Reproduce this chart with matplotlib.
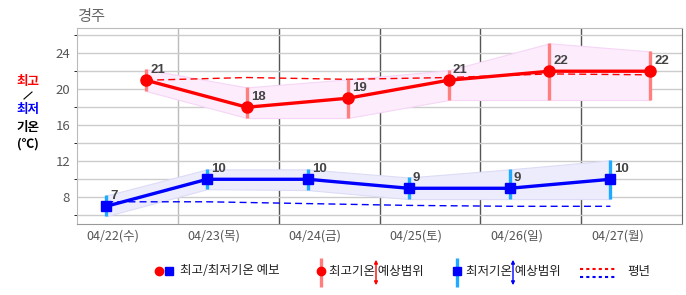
import numpy as np
import matplotlib
matplotlib.use("Agg")
import matplotlib.pyplot as plt

plt.rcParams['font.family'] = ['Noto Sans CJK KR', 'DejaVu Sans']

# 데이터
days = ['04/22(수)', '04/23(목)', '04/24(금)', '04/25(토)', '04/26(일)', '04/27(월)']
tmax = [21, 18, 19, 21, 22, 22]
tmax_lo = [19.8, 16.8, 16.8, 18.8, 18.8, 18.8]
tmax_hi = [22.2, 20.2, 21.1, 22.1, 25.1, 24.2]
tmin = [7, 10, 10, 9, 9, 10]
tmin_lo = [5.9, 8.9, 8.8, 7.8, 7.8, 7.8]
tmin_hi = [8.2, 11.1, 11.1, 10.2, 11.1, 12.1]
normal_max = [21.0, 21.3, 21.1, 21.3, 21.7, 21.6]
normal_min = [7.5, 7.5, 7.3, 7.1, 7.0, 7.0]
yticks = [8, 12, 16, 20, 24]

W, H = 686, 295
fig = plt.figure(figsize=(W / 100, H / 100), dpi=100)
ax = fig.add_axes([77 / W, 1 - 224.3 / H, 605 / W, 196.3 / H])

# 최저는 새벽, 최고는 오후 시각에 찍힘
xd = np.arange(len(days))
xmin = xd + 0.29
xmax = xd + 0.685

# 예상범위 음영
ax.fill_between(xmax, tmax_lo, tmax_hi, color='#fcecfc', edgecolor='#f6d6f6', lw=0.8, zorder=1)
ax.fill_between(xmin, tmin_lo, tmin_hi, color='#ececfc', edgecolor='#dcdcf6', lw=0.8, zorder=1)

# 평년
ax.plot(xmax, normal_max, color='#ff0000', lw=1, ls=(0, (5, 3)), zorder=2)
ax.plot(xmin, normal_min, color='#0000ff', lw=1, ls=(0, (5, 3)), zorder=2)

# 예상범위 막대
ax.vlines(xmax, tmax_lo, tmax_hi, color='#ff7f7f', lw=2.4, zorder=3)
ax.vlines(xmin, tmin_lo, tmin_hi, color='#1eaaff', lw=2.4, zorder=3)

# 예보
ax.plot(xmax, tmax, color='#ff0000', lw=2.4, marker='o', ms=8, zorder=4)
ax.plot(xmin, tmin, color='#0000ff', lw=2.4, marker='s', ms=7.5, zorder=4)

for xs, vals in [(xmax, tmax), (xmin, tmin)]:
    for xi, v in zip(xs, vals):
        ax.annotate(str(v), (xi, v), xytext=(3, 3), textcoords='offset points',
                    ha='left', va='bottom', fontsize=9.5, fontweight='bold', color='#444444',
                    family='Liberation Sans', zorder=5)

ax.set_xlim(0, 6)
ax.set_ylim(5, 26.8)
ax.set_yticks(yticks)
ax.set_yticks(np.arange(6, 27, 2), minor=True)
ax.yaxis.grid(True, which='both', color='#cccccc', lw=1)
ax.set_xticks(xd + 0.36)
ax.set_xticklabels(days)
ax.tick_params(length=0, labelsize=9, colors='#555555')
ax.tick_params(axis='y', pad=5, labelsize=9.5)
ax.tick_params(axis='x', pad=4)
ax.axvline(1, color='#bbbbbb', lw=1, zorder=0)
for b in range(2, 6):
    ax.axvline(b, color='#555555', lw=1, zorder=0)
for s in ['left', 'top']:
    ax.spines[s].set_color('#bbbbbb')
ax.spines['right'].set_color('#666666')
ax.spines['bottom'].set_color('#999999')
ax.set_axisbelow(True)

# 픽셀 좌표 오버레이 (제목, 왼쪽 라벨, 범례)
ov = fig.add_axes([0, 0, 1, 1], facecolor='none')
ov.set_xlim(0, W)
ov.set_ylim(H, 0)
ov.axis('off')

ov.text(77, 16.5, '경주', fontsize=11, color='#666666', ha='left', va='center')

lab = dict(fontsize=9, fontweight='bold', ha='center', va='center')
ov.text(28, 81, '최고', color='#ff0000', **lab)
ov.plot([24, 32], [99, 92], color='black', lw=0.8)
ov.text(28, 109, '최저', color='#0000ff', **lab)
ov.text(28, 127, '기온', color='black', **lab)
ov.text(28, 144, '(℃)', color='black', **lab)

ly = 271
lt = dict(fontsize=9, color='#222222', ha='left', va='center')
ov.plot(159, ly, 'o', color='#ff0000', ms=6)
ov.plot(169, ly, 's', color='#0000ff', ms=6)
ov.text(180, ly, '최고/최저기온 예보', **lt)

ov.plot([321, 321], [258, 287], color='#ff7f7f', lw=2.4, solid_capstyle='butt')
ov.plot(321, ly, 'o', color='#ff0000', ms=6)
ov.text(329, ly, '최고기온 예상범위', **lt)
ov.annotate('', xy=(376, 257), xytext=(376, 288),
            arrowprops=dict(arrowstyle='<|-|>', color='#ff0000', lw=1, mutation_scale=5))

ov.plot([457, 457], [258, 287], color='#1eaaff', lw=2.4, solid_capstyle='butt')
ov.plot(457, ly, 's', color='#0000ff', ms=6)
ov.text(466, ly, '최저기온 예상범위', **lt)
ov.annotate('', xy=(513, 257), xytext=(513, 288),
            arrowprops=dict(arrowstyle='<|-|>', color='#0000ff', lw=1, mutation_scale=5))

ov.plot([580, 615], [269, 269], color='#ff0000', lw=1.5, ls=(0, (1.5, 1.5)))
ov.plot([580, 615], [277, 277], color='#0000ff', lw=1.5, ls=(0, (1.5, 1.5)))
ov.text(627, ly, '평년', **lt)

fig.savefig('out.png', dpi=100)
